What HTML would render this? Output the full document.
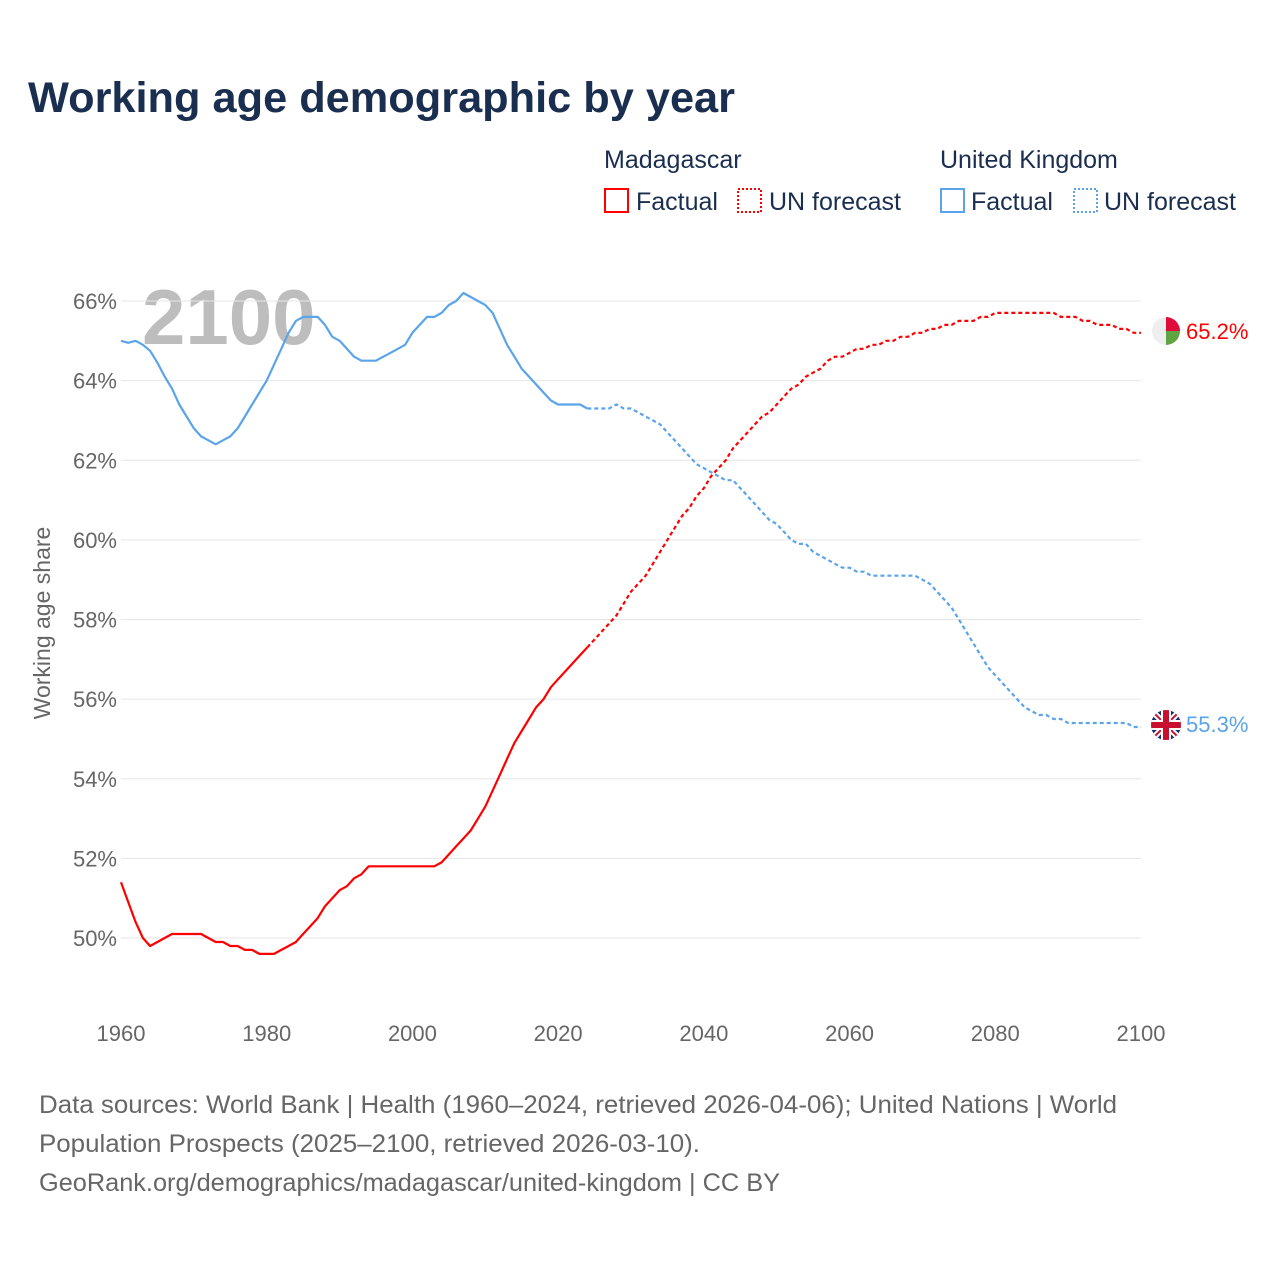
<!DOCTYPE html>
<html><head><meta charset="utf-8"><style>
body{margin:0;background:#fff;font-family:"Liberation Sans",sans-serif;}
#wrap{position:relative;width:1280px;height:1280px;overflow:hidden;}
</style></head><body>
<div id="wrap">
<svg id="chart" width="1280" height="1280" font-family="Liberation Sans, sans-serif">
<text x="28" y="112" font-size="43" font-weight="bold" fill="#1a2e4f" textLength="707" lengthAdjust="spacingAndGlyphs">Working age demographic by year</text>
<g font-size="25" fill="#1a2e4f">
<text x="604" y="168">Madagascar</text>
<text x="940" y="168">United Kingdom</text>
<g><rect x="605" y="189" width="23" height="23" fill="none" stroke="#f00" stroke-width="2"/><text x="636" y="210">Factual</text></g>
<g><rect x="738" y="189" width="23" height="23" fill="none" stroke="#f00" stroke-width="2" stroke-dasharray="2 2"/><text x="769" y="210">UN forecast</text></g>
<g><rect x="941" y="189" width="23" height="23" fill="none" stroke="#5ba4ea" stroke-width="2"/><text x="971" y="210">Factual</text></g>
<g><rect x="1074" y="189" width="23" height="23" fill="none" stroke="#5ba4ea" stroke-width="2" stroke-dasharray="2 2"/><text x="1104" y="210">UN forecast</text></g>
</g>
<text x="142" y="344" font-size="78" font-weight="bold" fill="#bdbdbd">2100</text>
<g id="grid"></g>
<g id="yticks" font-size="22" fill="#666" text-anchor="end"></g>
<g id="xticks" font-size="22" fill="#666" text-anchor="middle"></g>
<text transform="translate(50,623) rotate(-90)" font-size="23" fill="#666" text-anchor="middle">Working age share</text>
<g id="series"></g>
<g>
<clipPath id="cm"><circle cx="1166" cy="331" r="14"/></clipPath>
<g clip-path="url(#cm)"><rect x="1152" y="317" width="28" height="28" fill="#eee"/><rect x="1166" y="317" width="14" height="14" fill="#e00d3a"/><rect x="1166" y="331" width="14" height="14" fill="#5fa342"/></g>
</g>
<text x="1186" y="339" font-size="22" fill="#f00">65.2%</text>
<g>
<clipPath id="cu"><circle cx="1166" cy="725" r="15"/></clipPath>
<g clip-path="url(#cu)"><rect x="1150" y="709" width="32" height="32" fill="#1a2b6d"/>
<line x1="1150" y1="709" x2="1182" y2="741" stroke="#fff" stroke-width="6"/><line x1="1182" y1="709" x2="1150" y2="741" stroke="#fff" stroke-width="6"/>
<line x1="1150" y1="709" x2="1182" y2="741" stroke="#c8102e" stroke-width="2"/><line x1="1182" y1="709" x2="1150" y2="741" stroke="#c8102e" stroke-width="2"/>
<rect x="1150" y="720" width="32" height="10" fill="#fff"/><rect x="1161" y="709" width="10" height="32" fill="#fff"/>
<rect x="1150" y="722" width="32" height="6" fill="#c8102e"/><rect x="1163" y="709" width="6" height="32" fill="#c8102e"/></g>
</g>
<text x="1186" y="732" font-size="22" fill="#5ba4ea">55.3%</text>
<g font-size="25" fill="#666">
<text x="39" y="1113" textLength="1078" lengthAdjust="spacingAndGlyphs">Data sources: World Bank | Health (1960–2024, retrieved 2026-04-06); United Nations | World</text>
<text x="39" y="1152" textLength="661" lengthAdjust="spacingAndGlyphs">Population Prospects (2025–2100, retrieved 2026-03-10).</text>
<text x="39" y="1191" textLength="741" lengthAdjust="spacingAndGlyphs">GeoRank.org/demographics/madagascar/united-kingdom | CC BY</text>
</g>
</svg>
</div>
<script>
const yTicks=[50,52,54,56,58,60,62,64,66];
const xTicks=[1960,1980,2000,2020,2040,2060,2080,2100];
const startYear=1960;
const splitYear=2024;
const ukValues=[65.0,64.95,65.0,64.9,64.75,64.45,64.1,63.8,63.4,63.1,62.8,62.6,62.5,62.4,62.5,62.6,62.8,63.1,63.4,63.7,64.0,64.4,64.8,65.2,65.5,65.6,65.6,65.6,65.4,65.1,65.0,64.8,64.6,64.5,64.5,64.5,64.6,64.7,64.8,64.9,65.2,65.4,65.6,65.6,65.7,65.9,66.0,66.2,66.1,66.0,65.9,65.7,65.3,64.9,64.6,64.3,64.1,63.9,63.7,63.5,63.4,63.4,63.4,63.4,63.3,
63.3,63.3,63.3,63.4,63.3,63.3,63.2,63.1,63.0,62.9,62.7,62.5,62.3,62.1,61.9,61.8,61.7,61.6,61.5,61.5,61.3,61.1,60.9,60.7,60.5,60.4,60.2,60.0,59.9,59.9,59.7,59.6,59.5,59.4,59.3,59.3,59.2,59.2,59.1,59.1,59.1,59.1,59.1,59.1,59.1,59.0,58.9,58.7,58.5,58.3,58.0,57.7,57.4,57.1,56.8,56.6,56.4,56.2,56.0,55.8,55.7,55.6,55.6,55.5,55.5,55.4,55.4,55.4,55.4,55.4,55.4,55.4,55.4,55.4,55.3,55.3];
const mgValues=[51.4,50.9,50.4,50.0,49.8,49.9,50.0,50.1,50.1,50.1,50.1,50.1,50.0,49.9,49.9,49.8,49.8,49.7,49.7,49.6,49.6,49.6,49.7,49.8,49.9,50.1,50.3,50.5,50.8,51.0,51.2,51.3,51.5,51.6,51.8,51.8,51.8,51.8,51.8,51.8,51.8,51.8,51.8,51.8,51.9,52.1,52.3,52.5,52.7,53.0,53.3,53.7,54.1,54.5,54.9,55.2,55.5,55.8,56.0,56.3,56.5,56.7,56.9,57.1,57.3,
57.5,57.7,57.9,58.1,58.4,58.7,58.9,59.1,59.4,59.7,60.0,60.3,60.6,60.8,61.1,61.3,61.6,61.8,62.0,62.3,62.5,62.7,62.9,63.1,63.2,63.4,63.6,63.8,63.9,64.1,64.2,64.3,64.5,64.6,64.6,64.7,64.8,64.8,64.9,64.9,65.0,65.0,65.1,65.1,65.2,65.2,65.3,65.3,65.4,65.4,65.5,65.5,65.5,65.6,65.6,65.7,65.7,65.7,65.7,65.7,65.7,65.7,65.7,65.7,65.6,65.6,65.6,65.5,65.5,65.4,65.4,65.4,65.3,65.3,65.2,65.2];
const NS='http://www.w3.org/2000/svg';
const X=yr=>121+(yr-1960)*(1020/140);
const Y=v=>938-(v-50)*(637/16);
function mk(t,a,p){const e=document.createElementNS(NS,t);for(const k in a)e.setAttribute(k,a[k]);p.appendChild(e);return e;}
const grid=document.getElementById('grid'),yt=document.getElementById('yticks'),xt=document.getElementById('xticks'),ser=document.getElementById('series');
yTicks.forEach(v=>{
 const l=mk('line',{x1:121,x2:1141,y1:Y(v),y2:Y(v),stroke:'#e6e6e6','stroke-width':1},grid);
 
 
 const t=mk('text',{x:117,y:Y(v)+8},yt);t.textContent=v+'%';
 
 
});
xTicks.forEach(yr=>{
 const t=mk('text',{x:X(yr),y:1041},xt);t.textContent=yr;
 
 
});
function pts(vals,a,b){const r=[];vals.forEach((v,i)=>{const yr=startYear+i;if(yr>=a&&yr<=b)r.push(X(yr).toFixed(1)+','+Y(v).toFixed(1));});return r.join(' ');}
function draw(vals,color,name){
 const f=mk('polyline',{points:pts(vals,1960,splitYear),fill:'none',stroke:color,'stroke-width':2.2,'stroke-linejoin':'round'},ser);
 
 
 const d=mk('polyline',{points:pts(vals,splitYear,2100),fill:'none',stroke:color,'stroke-width':2.2,'stroke-dasharray':'4 3'},ser);
 
 
}
draw(ukValues,'#5ba4ea','uk');
draw(mgValues,'#ff0000','madagascar');
</script>
</body></html>
